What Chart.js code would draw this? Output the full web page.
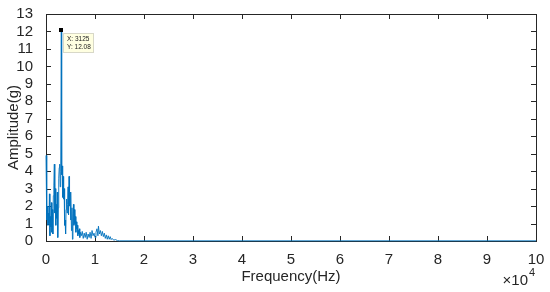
<!DOCTYPE html>
<html>
<head>
<meta charset="utf-8">
<script src="https://cdn.jsdelivr.net/npm/chart.js@4.4.1/dist/chart.umd.min.js"></script>
<style>
  html, body { margin: 0; padding: 0; background: #fff; }
  #wrap { width: 550px; height: 292px; }
</style>
</head>
<body>
<div id="wrap"><canvas id="chart" width="550" height="292"></canvas></div>
<script>
// spectrum (frequency in Hz, amplitude in g)
const freqHz = [
  0, 100, 200, 300, 400, 500, 600, 700, 800, 900,
  1000, 1100, 1200, 1300, 1400, 1500, 1600, 1700, 1800, 1900,
  2000, 2100, 2200, 2300, 2400, 2500, 2600, 2700, 2800, 2900,
  3000, 3125, 3200, 3300, 3400, 3500, 3600, 3700, 3800, 3900,
  4000, 4100, 4200, 4300, 4400, 4500, 4600, 4700, 4800, 4900,
  5000, 5100, 5200, 5300, 5400, 5500, 5600, 5700, 5800, 5900,
  6000, 6100, 6200, 6300, 6400, 6500, 6600, 6700, 6800, 6900,
  7000, 7200, 7400, 7600, 7800, 8000, 8200, 8400, 8600, 8800,
  9000, 9200, 9400, 9600, 9800, 10000, 10200, 10400, 10600, 10700,
  10900, 11100, 11300, 11500, 11700, 11900, 12100, 12300, 12500, 12700,
  12900, 13100, 13300, 13500, 13800, 14200, 14600, 15000, 20000, 30000,
  40000, 50000, 60000, 70000, 80000, 90000, 100000
];
const amplitude = [
  4.9, 3.2, 1.2, 2.0, 0.9, 1.6, 1.0, 2.7, 0.3, 1.4,
  0.8, 2.2, 0.5, 1.8, 0.4, 2.6, 3.2, 4.4, 1.6, 3.0,
  0.9, 2.1, 1.3, 2.8, 0.2, 1.9, 3.6, 4.2, 4.4, 3.1,
  4.0, 12.08, 3.8, 4.3, 2.5, 3.7, 2.4, 3.0, 0.9, 1.2,
  0.4, 1.8, 2.4, 1.6, 2.1, 3.1, 1.5, 3.7, 2.0, 2.8,
  1.2, 2.7, 0.6, 1.9, 0.1, 1.4, 2.1, 0.9, 1.8, 1.0,
  1.4, 0.5, 1.1, 0.7, 0.9, 0.3, 0.6, 0.4, 0.7, 0.2,
  0.5, 0.3, 0.55, 0.15, 0.45, 0.2, 0.5, 0.1, 0.4, 0.2,
  0.5, 0.15, 0.6, 0.3, 0.45, 0.2, 0.5, 0.7, 0.3, 0.85,
  0.4, 0.6, 0.3, 0.55, 0.25, 0.45, 0.15, 0.35, 0.1, 0.3,
  0.1, 0.25, 0.08, 0.15, 0.05, 0.08, 0.02, 0.01, 0.01, 0.01,
  0.01, 0.01, 0.01, 0.01, 0.01, 0.01, 0.01
];
const xMax = 100000;
const xStep = 10000;
const yMax = 13;
const xTitle = 'Frequency(Hz)';
const yTitle = 'Amplitude(g)';

const axisColor = '#262626';
const lineColor = '#0072BD';
const fontFamily = '"Liberation Sans", Arial, Helvetica, sans-serif';

const points = freqHz.map((f, i) => ({ x: f, y: amplitude[i] }));
const peakIdx = amplitude.indexOf(Math.max(...amplitude));

// MATLAB-like box with inward ticks on all four sides
const boxPlugin = {
  id: 'box',
  beforeDatasetsDraw(chart) {
    const { ctx, chartArea: a, scales: { x, y } } = chart;
    const tl = 5;
    ctx.save();
    ctx.strokeStyle = axisColor;
    ctx.lineWidth = 1;
    ctx.beginPath();
    x.ticks.forEach(t => {
      const px = Math.round(x.getPixelForValue(t.value)) + 0.5;
      ctx.moveTo(px, a.bottom); ctx.lineTo(px, a.bottom - tl);
      ctx.moveTo(px, a.top); ctx.lineTo(px, a.top + tl);
    });
    y.ticks.forEach(t => {
      const py = Math.round(y.getPixelForValue(t.value)) + 0.5;
      ctx.moveTo(a.left, py); ctx.lineTo(a.left + tl, py);
      ctx.moveTo(a.right, py); ctx.lineTo(a.right - tl, py);
    });
    ctx.stroke();
    ctx.strokeRect(Math.round(a.left) + 0.5, Math.round(a.top) + 0.5,
      Math.round(a.right - a.left), Math.round(a.bottom - a.top));
    ctx.restore();
  },
  afterDraw(chart) {
    const { ctx, chartArea: a, scales: { x, y } } = chart;
    ctx.save();
    // exponent label under the x axis
    ctx.fillStyle = axisColor;
    ctx.textBaseline = 'alphabetic';
    ctx.textAlign = 'right';
    ctx.font = '15px ' + fontFamily;
    ctx.fillText('\u00d710', a.right - 8, a.bottom + 44);
    ctx.textAlign = 'left';
    ctx.font = '11px ' + fontFamily;
    ctx.fillText('4', a.right - 7, a.bottom + 35);

    // data tip at the peak
    const px = x.getPixelForValue(freqHz[peakIdx]);
    const py = y.getPixelForValue(amplitude[peakIdx]);
    ctx.fillStyle = '#000';
    ctx.fillRect(Math.round(px) - 2, Math.round(py) - 2, 4, 4);
    const bx = Math.round(px) + 2, by = Math.round(py) + 3;
    ctx.fillStyle = '#FFFFE1';
    ctx.fillRect(bx, by, 30, 19);
    ctx.strokeStyle = '#d8d8c8';
    ctx.strokeRect(bx + 0.5, by + 0.5, 30, 19);
    ctx.fillStyle = '#222';
    ctx.font = '6.5px ' + fontFamily;
    ctx.textBaseline = 'middle';
    ctx.fillText('X: ' + freqHz[peakIdx], bx + 4, by + 6);
    ctx.fillText('Y: ' + amplitude[peakIdx].toFixed(2), bx + 4, by + 14);
    ctx.restore();
  }
};

new Chart(document.getElementById('chart'), {
  type: 'line',
  data: {
    datasets: [{
      data: points,
      borderColor: lineColor,
      borderWidth: 0.9,
      pointRadius: 0,
      tension: 0,
      fill: false,
      clip: false
    }]
  },
  options: {
    responsive: false,
    animation: false,
    events: [],
    layout: { padding: { top: 11, right: 14, left: 0, bottom: 0 } },
    plugins: { legend: { display: false }, tooltip: { enabled: false } },
    scales: {
      x: {
        type: 'linear',
        min: 0,
        max: xMax,
        afterFit(s) { s.height = 51; },
        grid: { display: false },
        border: { display: false },
        ticks: {
          stepSize: xStep,
          autoSkip: false,
          padding: 2,
          maxRotation: 0,
          color: axisColor,
          font: { family: fontFamily, size: 15 },
          callback: v => String(v / xStep)
        },
        title: {
          display: true,
          text: xTitle,
          color: axisColor,
          font: { family: fontFamily, size: 15 },
          padding: { top: 0, bottom: 6 }
        }
      },
      y: {
        min: 0,
        max: yMax,
        afterFit(s) { s.width = 46; },
        grid: { display: false },
        border: { display: false },
        ticks: {
          stepSize: 1,
          autoSkip: false,
          padding: 5,
          color: axisColor,
          font: { family: fontFamily, size: 15 }
        },
        title: {
          display: true,
          text: yTitle,
          color: axisColor,
          font: { family: fontFamily, size: 15 },
          padding: { top: 5, bottom: 0 }
        }
      }
    }
  },
  plugins: [boxPlugin]
});
</script>
</body>
</html>
